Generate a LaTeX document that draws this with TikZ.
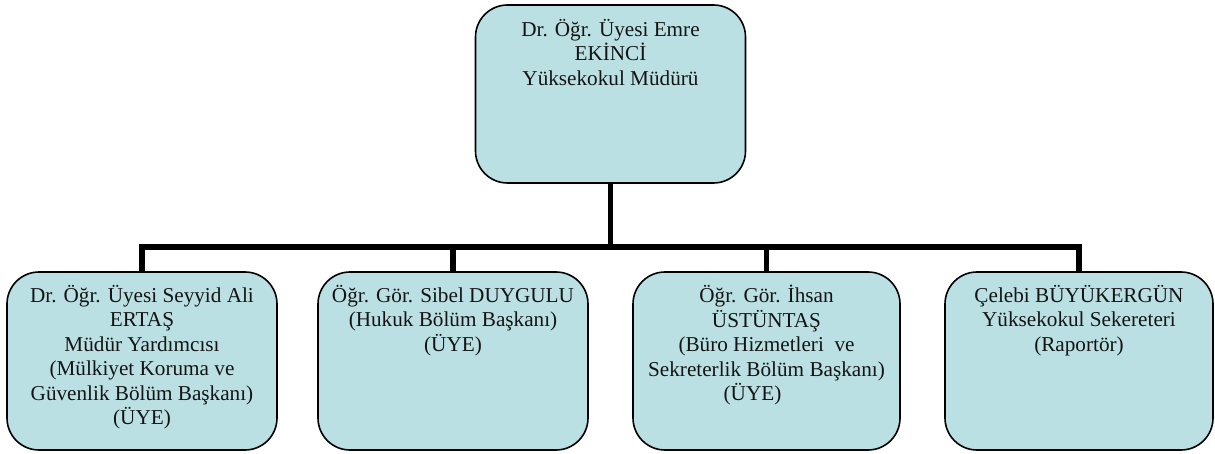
\documentclass[tikz,border=0pt]{standalone}
\usepackage{fontspec}
\setmainfont{Liberation Serif}
\definecolor{boxfill}{RGB}{187,224,227}
\definecolor{txtcol}{RGB}{20,20,20}
\begin{document}
\begin{tikzpicture}[x=1pt,y=-1pt,
  orgbox/.style={draw=black,line width=1.6pt,fill=boxfill,rounded corners=32pt,
    minimum width=270pt,minimum height=178pt,inner sep=0pt},
  orgtxt/.style={anchor=north,align=center,inner sep=0pt,text=txtcol,
    font=\fontsize{21.2}{24.4}\selectfont},
  conn/.style={line width=5.5pt,draw=black}]
\useasboundingbox (0,0) rectangle (1215,454);
% boxes
\node[orgbox] (top) at (610.5,94) {};
\node[orgbox] (b1) at (142,361) {};
\node[orgbox] (b2) at (453,361) {};
\node[orgbox,minimum width=267pt] (b3) at (766.5,361) {};
\node[orgbox,minimum width=268pt] (b4) at (1079,361) {};
% texts
\node[orgtxt] (ttop) at ([yshift=-15pt]top.north) {Dr. Öğr. Üyesi Emre\\EKİNCİ\\Yüksekokul Müdürü};
\node[orgtxt] (t1) at ([yshift=-14pt]b1.north) {Dr. Öğr. Üyesi Seyyid Ali\\ERTAŞ\\Müdür Yardımcısı\\(Mülkiyet Koruma ve\\Güvenlik Bölüm Başkanı)\\(ÜYE)};
\node[orgtxt] (t2) at ([yshift=-14pt]b2.north) {Öğr. Gör. Sibel DUYGULU\\(Hukuk Bölüm Başkanı)\\(ÜYE)};
\node[orgtxt] (t3) at ([yshift=-14pt]b3.north) {Öğr. Gör. İhsan\\ÜSTÜNTAŞ\\(Büro Hizmetleri~ ve\\Sekreterlik Bölüm Başkanı)\\(ÜYE)\hspace*{28pt}};
\node[orgtxt] (t4) at ([yshift=-14pt]b4.north) {Çelebi BÜYÜKERGÜN\\Yüksekokul Sekereteri\\(Raportör)};
% connectors
\coordinate (busy) at (610.5,247);
\draw[conn] (top.south) -- (busy);
\draw[conn] (b1.north) |- (busy) -| (b4.north);
\draw[conn] (b2.north) -- (b2.north |- busy);
\draw[conn] (b3.north) -- (b3.north |- busy);
\end{tikzpicture}
\end{document}
